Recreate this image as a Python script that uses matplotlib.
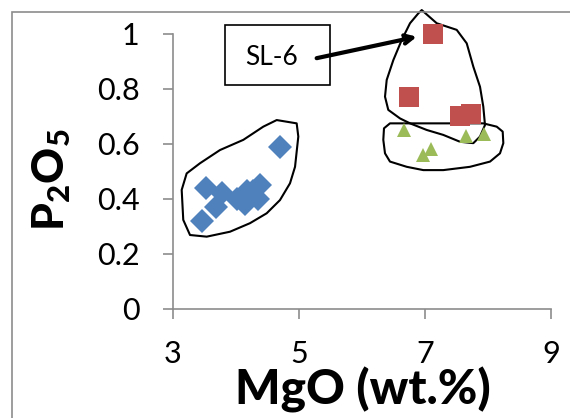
import matplotlib
matplotlib.use("Agg")
import matplotlib.pyplot as plt
from matplotlib.patches import Rectangle, Polygon

plt.rcParams['font.family'] = ['Lato', 'DejaVu Sans']
plt.rcParams['mathtext.fontset'] = 'custom'
plt.rcParams['mathtext.rm'] = 'Lato'
plt.rcParams['mathtext.bf'] = 'Lato:black'

# MgO vs P2O5 (wt.%)
blue_mgo = [4.70, 3.53, 3.77, 3.69, 3.46, 4.01, 4.17, 4.38, 4.35, 4.14, 4.22, 4.27]
blue_p2o5 = [0.59, 0.44, 0.42, 0.37, 0.32, 0.40, 0.43, 0.45, 0.40, 0.38, 0.41, 0.43]

red_mgo = [6.75, 7.56, 7.73, 7.13]
red_p2o5 = [0.77, 0.70, 0.71, 1.00]

green_mgo = [6.67, 6.97, 7.10, 7.65, 7.93]
green_p2o5 = [0.65, 0.56, 0.58, 0.63, 0.635]

# hand-drawn group outlines (MgO, P2O5)
blue_outline = [(4.646, 0.687), (4.963, 0.675), (4.989, 0.627), (4.937, 0.517),
                (4.857, 0.457), (4.698, 0.396), (4.487, 0.348), (4.222, 0.312),
                (3.905, 0.281), (3.535, 0.263), (3.270, 0.269), (3.163, 0.324),
                (3.138, 0.433), (3.217, 0.493), (3.429, 0.530), (3.746, 0.578),
                (4.116, 0.615), (4.433, 0.663)]
red_outline = [(6.948, 1.087), (7.186, 1.039), (7.503, 1.015), (7.662, 0.966),
               (7.767, 0.881), (7.873, 0.808), (7.925, 0.736), (7.952, 0.669),
               (7.873, 0.627), (7.767, 0.603), (7.556, 0.608), (7.290, 0.633),
               (7.027, 0.651), (6.762, 0.675), (6.603, 0.693), (6.417, 0.724),
               (6.365, 0.772), (6.392, 0.833), (6.497, 0.905), (6.630, 0.978),
               (6.762, 1.039), (6.894, 1.075)]
green_outline = [(6.444, 0.675), (7.925, 0.675), (8.138, 0.663), (8.233, 0.645),
                 (8.243, 0.603), (8.190, 0.566), (8.032, 0.536), (7.714, 0.517),
                 (7.290, 0.505), (6.973, 0.505), (6.710, 0.517), (6.444, 0.536),
                 (6.365, 0.566), (6.338, 0.615), (6.349, 0.657)]

x_ticks = [3, 5, 7, 9]
y_ticks = [0, 0.2, 0.4, 0.6, 0.8, 1]
y_labels = ['0', '0.2', '0.4', '0.6', '0.8', '1']

fig = plt.figure(figsize=(5.7, 4.18), dpi=100)
ax = fig.add_axes([0.3035, 0.2608, 0.6632, 0.6579])

# outer chart frame
fig.patches.append(Rectangle((0.021, -0.1), 1.2, 1.072, transform=fig.transFigure,
                             fill=False, edgecolor='#8c8c8c', linewidth=1.2))

ax.plot(blue_mgo, blue_p2o5, 'D', color='#4F81BD', markersize=12.5,
        markeredgewidth=0, clip_on=False)
ax.plot(green_mgo, green_p2o5, '^', color='#9BBB59', markersize=10.5,
        markeredgewidth=0, clip_on=False)
ax.plot(red_mgo, red_p2o5, 's', color='#C0504D', markersize=14,
        markeredgewidth=0, clip_on=False)

for pts in (blue_outline, red_outline, green_outline):
    ax.add_patch(Polygon(pts, closed=True, fill=False, edgecolor='black',
                         linewidth=1.5, joinstyle='round', clip_on=False))

# SL-6 label and arrow
ax.add_patch(Rectangle((3.825, 0.815), 1.667, 0.218, fill=False,
                       edgecolor='black', linewidth=1.2, clip_on=False))
ax.text(4.571, 0.916, 'SL-6', fontsize=19, ha='center', va='center')
ax.annotate('', xy=(6.87, 0.99), xytext=(5.28, 0.912),
            arrowprops=dict(arrowstyle='->,head_length=0.6,head_width=0.3',
                            color='black', lw=3, shrinkA=0, shrinkB=0))

ax.set_xlim(3, 9)
ax.set_ylim(0, 1)
ax.set_xticks(x_ticks)
ax.set_yticks(y_ticks)
ax.set_yticklabels(y_labels)
for s in ('top', 'right'):
    ax.spines[s].set_visible(False)
for s in ('left', 'bottom'):
    ax.spines[s].set_color('#8c8c8c')
    ax.spines[s].set_linewidth(1.2)
ax.tick_params(direction='out', length=7, width=1.2, color='#8c8c8c',
               labelsize=22)
ax.tick_params(axis='y', pad=17)
ax.tick_params(axis='x', pad=15)

fig.text(0.637, 0.068, 'MgO (wt.%)', fontsize=34.5, fontweight='black',
         ha='center', va='center')
fig.text(0.09, 0.57, r'$\mathbf{P_2O_5}$', fontsize=32, rotation=90,
         ha='center', va='center')

fig.savefig('out.png', dpi=100)
